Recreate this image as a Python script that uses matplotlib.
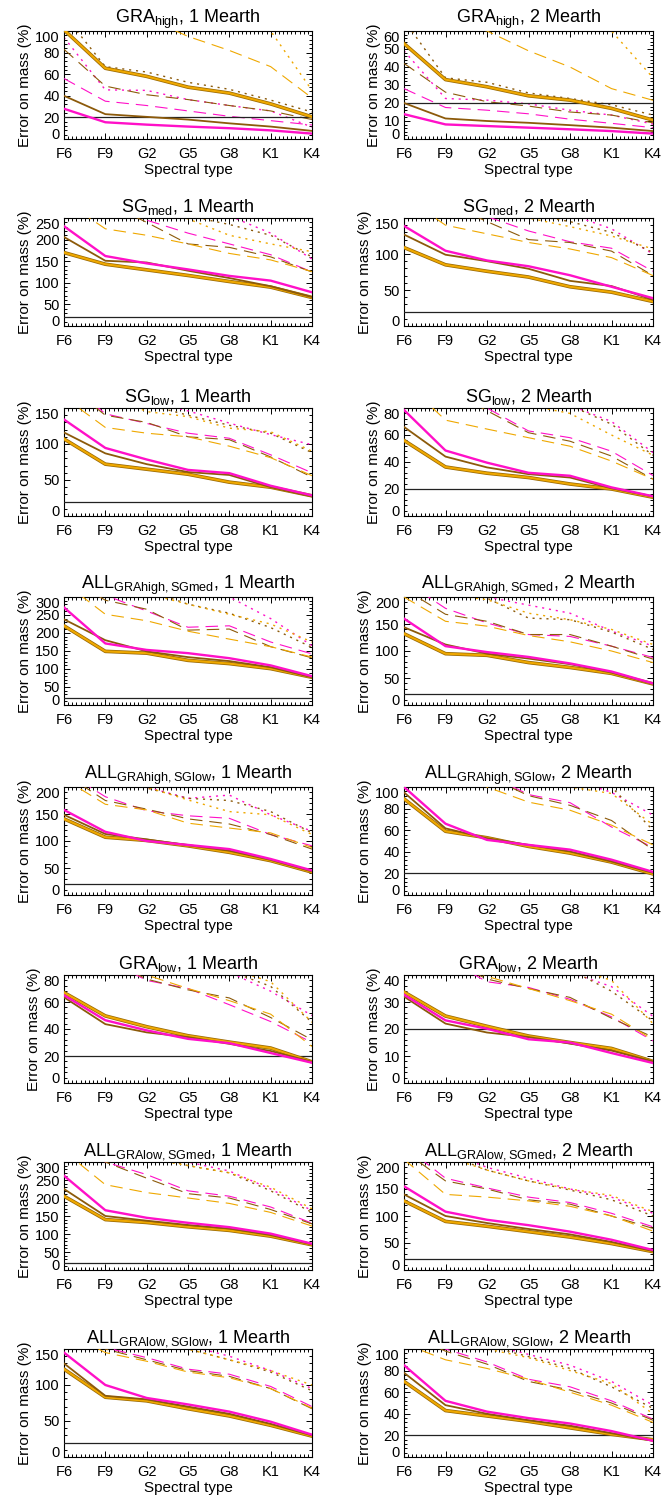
import matplotlib
matplotlib.use('Agg')
import matplotlib.pyplot as plt
import matplotlib.patheffects as pe
from matplotlib.ticker import MultipleLocator

plt.rcParams['font.family'] = ['Liberation Sans', 'DejaVu Sans']
plt.rcParams['mathtext.fontset'] = 'custom'
plt.rcParams['mathtext.rm'] = 'Liberation Sans'
plt.rcParams['lines.scale_dashes'] = False

spectral_types = ['F6', 'F9', 'G2', 'G5', 'G8', 'K1', 'K4']
# series order in each panel: magenta/brown/orange solid, dashed, dotted
series_colors = ['#FF10C8', '#8C5A0A', '#EFA800']
threshold = 20

GRAhigh_1 = [
    [28, 15.5, 13.3, 11.5, 10, 8, 5],
    [40, 23, 20.5, 18, 14.5, 11.5, 7.5],
    [101, 65.5, 58, 48, 42.5, 32.5, 20.5],
    [56, 35, 31, 26, 21, 17, 13],
    [83, 49, 41, 36.5, 31, 26, 18],
    [180, 150, 112, 95, 82, 67, 38],
    [94, 45.5, 45, 36.5, 31, 26, 11],
    [115, 67, 62, 52.5, 46, 36, 25],
    [250, 200, 160, 130, 115, 100, 45],
]
GRAhigh_2 = [
    [13.8, 8.1, 7.2, 6.3, 5.4, 4.4, 3],
    [20, 11.4, 10, 9, 7.7, 6.3, 4.4],
    [53, 33, 29, 24, 21.6, 17, 10.5],
    [28, 17.5, 16, 14, 11, 8.7, 6.3],
    [42, 26, 20.7, 18.3, 15, 13.3, 9],
    [80, 66, 60, 49, 40, 28, 21.5],
    [49, 22.5, 21.6, 19.5, 16, 13.3, 8.3],
    [66, 34, 31.5, 25.6, 22.5, 19, 13.3],
    [130, 110, 95, 82, 70, 60, 34],
]
SGmed_1 = [
    [231, 162, 145, 131, 116, 105, 78],
    [206, 151, 147, 128, 111, 92, 67],
    [170, 143, 130, 117, 103, 90, 66],
    [360, 300, 245, 215, 190, 165, 125],
    [330, 285, 240, 190, 182, 160, 125],
    [290, 225, 210, 190, 168, 153, 126],
    [450, 400, 330, 290, 255, 215, 155],
    [420, 380, 310, 255, 235, 210, 160],
    [400, 350, 290, 248, 210, 190, 172],
]
SGmed_2 = [
    [139, 104.5, 91, 83, 70.5, 54.5, 38.6],
    [127, 99, 90, 79.5, 62.7, 55.5, 36.4],
    [109, 85, 76, 68, 54.5, 47, 34],
    [220, 180, 152, 132, 117, 108, 76],
    [205, 172, 145, 120, 116, 104, 70],
    [180, 140, 128, 116, 107, 95, 70],
    [300, 260, 210, 175, 155, 135, 100],
    [290, 240, 190, 155, 145, 130, 102],
    [280, 230, 180, 150, 138, 125, 107],
]
SGlow_1 = [
    [134, 94.5, 78.5, 64, 59.5, 42, 28.6],
    [116, 87, 72, 61, 57, 40, 27.3],
    [107, 72, 65, 58, 47, 40, 28],
    [190, 142, 128.6, 115, 108, 85, 60],
    [185, 140, 130, 110, 106, 82, 54],
    [165, 123, 115, 110, 97, 81, 56],
    [230, 185, 160, 146, 129, 113, 99],
    [220, 180, 155, 140, 126, 115, 88],
    [210, 170, 145, 138, 122, 117, 90],
]
SGlow_2 = [
    [78.5, 48.5, 39.5, 32, 29.8, 21.2, 14.6],
    [66, 44, 36, 31, 28.5, 20.5, 14.4],
    [56, 36.3, 31.7, 28.5, 23.7, 20, 13.9],
    [115, 100, 80, 63, 58, 48, 30],
    [110, 95, 78, 61.7, 55.4, 44.4, 27.3],
    [100, 71, 64.4, 58, 51.7, 40.7, 27.3],
    [150, 130, 110, 95, 82, 70, 47],
    [145, 125, 105, 90, 82, 68, 45],
    [140, 120, 100, 82, 76, 60, 45],
]
ALL_GHSM_1 = [
    [271, 171, 153, 144, 130, 110, 80],
    [238, 180, 149, 133, 122, 105, 77],
    [220, 149, 144, 124, 115, 101, 77],
    [380, 305, 261, 216, 220, 175, 142],
    [360, 291, 266, 208, 211, 162, 131],
    [340, 252, 234, 205, 183, 162, 133],
    [450, 380, 330, 310, 300, 240, 165],
    [430, 370, 320, 280, 255, 215, 160],
    [420, 360, 310, 280, 252, 225, 175],
]
ALL_GHSM_2 = [
    [160, 109, 98, 89, 77, 62, 40],
    [144, 112, 95, 86, 75.6, 60, 39],
    [132, 95, 92, 78.6, 69.5, 58.5, 39],
    [230, 179, 152, 130.5, 127, 109, 88],
    [215, 168, 155, 130.5, 130.5, 109, 85],
    [200, 155, 146, 128.7, 117, 100, 78.6],
    [260, 220, 200, 185, 170, 137, 109],
    [250, 210, 198, 161, 158, 135, 103],
    [240, 205, 195, 170, 158, 140, 112],
]
ALL_GHSL_1 = [
    [157.6, 117, 100, 92.7, 85, 66.7, 45.5],
    [148.5, 113, 103, 92, 82, 65, 43.6],
    [141, 107, 101, 91, 79, 63.6, 42.4],
    [230, 182, 156, 146.7, 142, 112, 91],
    [225, 175, 159, 141, 131.5, 112, 85],
    [215, 168, 157.6, 133, 124, 115, 88],
    [260, 230, 200, 179, 185, 148.5, 118],
    [255, 225, 198, 179, 175, 154.5, 115],
    [250, 220, 200, 176, 154.5, 148.5, 112],
]
ALL_GHSL_2 = [
    [100, 66, 51, 46.4, 42, 32.7, 21.4],
    [95, 61.7, 52.5, 46.4, 40.3, 31, 20.5],
    [89, 59, 53, 45, 38.8, 30.5, 19.5],
    [140, 125, 112, 93, 85.5, 63, 44],
    [138, 123, 110, 92, 83, 69, 41.8],
    [130, 115, 100, 86, 78.5, 64.7, 46.4],
    [180, 160, 140, 120, 108, 95, 74],
    [175, 155, 135, 118, 110, 100, 60],
    [170, 150, 130, 112, 100, 94, 65],
]
GRAlow_1 = [
    [65, 46.5, 39, 32.7, 29.5, 22.2, 15],
    [63.5, 43.6, 37.5, 34, 29, 23.7, 15.7],
    [67, 49.7, 41.7, 35, 30.3, 25.9, 15.7],
    [110, 92, 76, 70, 58, 45.5, 30],
    [110, 92, 77, 69, 63, 48.5, 32],
    [110, 93, 80, 70, 61, 51, 27],
    [130, 115, 100, 90, 82, 68, 50],
    [130, 115, 100, 90, 83, 71.6, 45],
    [130, 115, 100, 92, 85, 75, 45],
]
GRAlow_2 = [
    [32.7, 23.2, 20.1, 16.2, 15, 11.1, 7.4],
    [32, 22, 18.7, 17, 14.6, 12, 8],
    [33.7, 24.8, 21, 17.4, 15, 12.8, 8],
    [55, 46, 37.5, 35.4, 31, 24.5, 15.6],
    [55, 46, 38.5, 35, 31.7, 24, 17],
    [55, 46, 39.5, 35, 30.5, 25.5, 16],
    [65, 57, 50, 45, 41, 35.7, 24.7],
    [65, 57, 50, 45, 42, 34, 23],
    [65, 57, 50, 46, 43, 38, 22],
]
ALL_GLSM_1 = [
    [262, 166, 145, 131, 119, 101, 73],
    [225, 150, 137, 125, 115, 97, 71],
    [205, 140, 132, 120, 110, 94, 70],
    [380, 300, 265, 220, 205, 175, 130],
    [360, 300, 255, 212, 200, 168, 128],
    [330, 237, 215, 200, 185, 160, 122],
    [450, 380, 330, 300, 275, 225, 165],
    [430, 370, 320, 290, 270, 220, 160],
    [420, 360, 310, 290, 270, 230, 170],
]
ALL_GLSM_2 = [
    [155, 108, 93, 83, 71, 56, 37],
    [140, 100, 87, 76, 66, 52, 35],
    [128, 90, 81, 71, 61, 49, 34],
    [230, 170, 152, 135, 125, 105, 80],
    [220, 165, 150, 130, 122, 100, 77],
    [205, 140, 135, 128, 118, 100, 72],
    [270, 220, 190, 170, 150, 135, 105],
    [260, 215, 185, 165, 148, 130, 100],
    [250, 210, 185, 165, 150, 138, 108],
]
ALL_GLSL_1 = [
    [145, 100, 82, 73, 63, 49, 31],
    [130, 85, 80, 70, 60, 46, 30],
    [122, 83, 78, 67, 57, 44, 29],
    [190, 152, 138, 122, 115, 98, 70],
    [185, 150, 135, 120, 112, 95, 67],
    [175, 145, 133, 118, 110, 95, 68],
    [230, 190, 170, 155, 140, 120, 95],
    [225, 185, 165, 150, 135, 118, 92],
    [220, 180, 162, 150, 135, 120, 100],
]
ALL_GLSL_2 = [
    [85, 52, 42, 36, 31, 24, 15],
    [78, 48, 40, 34, 29, 22, 15],
    [70, 43, 38, 33, 27, 21, 16],
    [120, 100, 88, 72, 65, 52, 35],
    [115, 98, 86, 70, 62, 50, 34],
    [105, 90, 82, 72, 60, 48, 32],
    [140, 120, 105, 95, 85, 70, 48],
    [135, 118, 103, 93, 82, 65, 45],
    [130, 115, 100, 92, 80, 68, 40],
]

titles = [
    r'GRA$_{\mathregular{high}}$, 1 Mearth', r'GRA$_{\mathregular{high}}$, 2 Mearth',
    r'SG$_{\mathregular{med}}$, 1 Mearth', r'SG$_{\mathregular{med}}$, 2 Mearth',
    r'SG$_{\mathregular{low}}$, 1 Mearth', r'SG$_{\mathregular{low}}$, 2 Mearth',
    r'ALL$_{\mathregular{GRAhigh,SGmed}}$, 1 Mearth', r'ALL$_{\mathregular{GRAhigh,SGmed}}$, 2 Mearth',
    r'ALL$_{\mathregular{GRAhigh,SGlow}}$, 1 Mearth', r'ALL$_{\mathregular{GRAhigh,SGlow}}$, 2 Mearth',
    r'GRA$_{\mathregular{low}}$, 1 Mearth', r'GRA$_{\mathregular{low}}$, 2 Mearth',
    r'ALL$_{\mathregular{GRAlow,SGmed}}$, 1 Mearth', r'ALL$_{\mathregular{GRAlow,SGmed}}$, 2 Mearth',
    r'ALL$_{\mathregular{GRAlow,SGlow}}$, 1 Mearth', r'ALL$_{\mathregular{GRAlow,SGlow}}$, 2 Mearth',
]
panel_data = [GRAhigh_1, GRAhigh_2, SGmed_1, SGmed_2, SGlow_1, SGlow_2,
              ALL_GHSM_1, ALL_GHSM_2, ALL_GHSL_1, ALL_GHSL_2, GRAlow_1, GRAlow_2,
              ALL_GLSM_1, ALL_GLSM_2, ALL_GLSL_1, ALL_GLSL_2]
y_max = [100, 60, 250, 150, 150, 80, 300, 200, 200, 100, 80, 40, 300, 200, 150, 100]
y_step = [20, 10, 50, 50, 50, 20, 50, 50, 50, 20, 20, 10, 50, 50, 50, 20]

W, H = 664, 1506
fig = plt.figure(figsize=(W / 100, H / 100), dpi=100)

col_x = [64, 404]
col_w = [248, 249]
row_top = [31, 218, 408, 597, 787, 975, 1162, 1349]
ax_h = 108

dash_style = (0, (9, 5))
dot_style = (0, (1.5, 3.5))

for i, (title, data) in enumerate(zip(titles, panel_data)):
    r, c = divmod(i, 2)
    ax = fig.add_axes([col_x[c] / W, 1 - (row_top[r] + ax_h) / H, col_w[c] / W, ax_h / H])
    x = list(range(len(spectral_types)))
    # dotted
    for k in range(3):
        ax.plot(x, data[6 + k], color=series_colors[k], lw=1.0, linestyle=dot_style, zorder=2)
    # dashed
    for k in range(3):
        ax.plot(x, data[3 + k], color=series_colors[k], lw=0.8, linestyle=dash_style, zorder=3)
    ax.axhline(threshold, color='#222222', lw=0.9, zorder=4)
    # solids: orange, brown, magenta
    ax.plot(x, data[2], color=series_colors[2], lw=1.5, zorder=5,
            path_effects=[pe.Stroke(linewidth=2.6, foreground='#9A6A05'), pe.Normal()])
    ax.plot(x, data[1], color=series_colors[1], lw=1.3, zorder=6)
    ax.plot(x, data[0], color=series_colors[0], lw=1.7, zorder=7)

    ax.set_xlim(0, len(spectral_types) - 1)
    ax.set_ylim(0, y_max[i])
    ax.set_xticks(x)
    ax.set_xticklabels(spectral_types)
    yt = list(range(0, y_max[i] + 1, y_step[i]))
    ax.set_yticks(yt)
    ax.set_yticklabels([str(v) for v in yt])
    ax.xaxis.set_minor_locator(MultipleLocator(0.1))
    ax.yaxis.set_minor_locator(MultipleLocator(y_step[i] / 5))
    ax.tick_params(which='both', direction='in', top=True, right=True, labelsize=10.5, width=0.7)
    ax.tick_params(which='major', length=4)
    ax.tick_params(which='minor', length=2)
    ax.tick_params(axis='x', pad=6)
    ax.tick_params(axis='y', pad=3)
    labs = ax.get_yticklabels()
    labs[0].set_verticalalignment('baseline')
    labs[-1].set_verticalalignment('top')
    for s in ax.spines.values():
        s.set_linewidth(0.8)
    ax.set_xlabel('Spectral type', fontsize=11, labelpad=1)
    ax.set_ylabel('Error on mass (%)', fontsize=11, labelpad=2)
    ax.set_title(title, fontsize=13, pad=4)

fig.savefig('out.png', dpi=100)
